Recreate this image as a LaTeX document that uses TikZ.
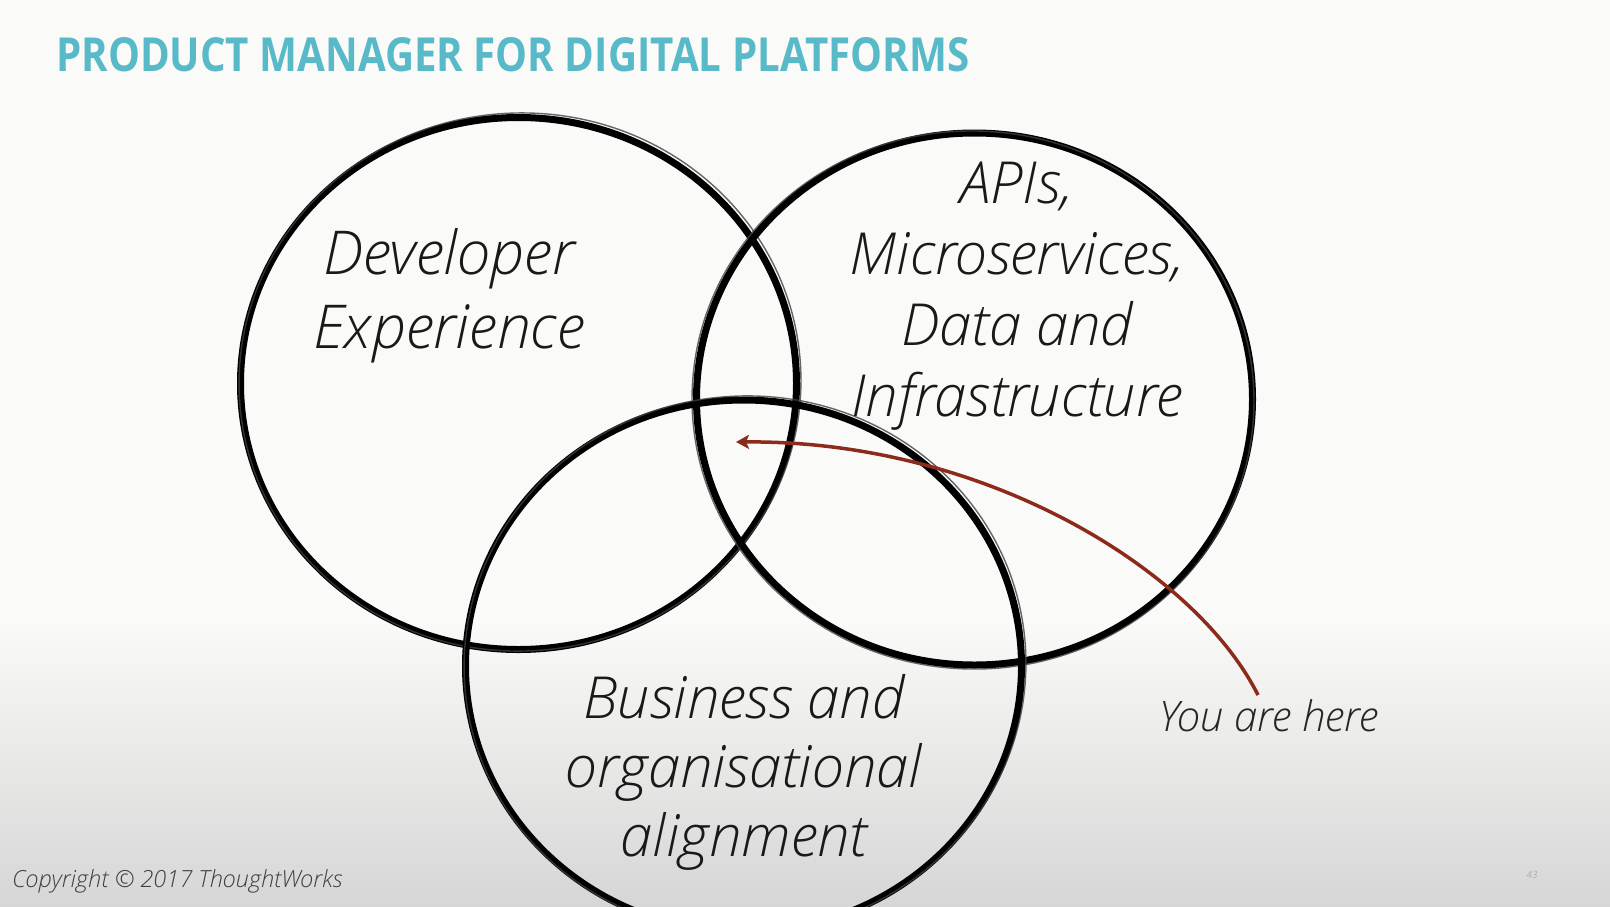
\documentclass[tikz,border=0pt]{standalone}
\usepackage{fontspec}
\usetikzlibrary{shapes.geometric,arrows.meta}
\IfFontExistsTF{Open Sans Light Italic}
  {\newfontfamily\litfont{Open Sans Light Italic}}
  {\newfontfamily\litbase{Open Sans}\newcommand\litfont{\litbase\itshape}}
\newfontfamily\titlefont{Open Sans}
\definecolor{titleteal}{RGB}{88,186,200}
\definecolor{arrowred}{RGB}{140,42,28}
\definecolor{bgtop}{RGB}{250,250,248}
\definecolor{bgbot}{RGB}{214,214,214}
\tikzset{
  ring/.style={ellipse, draw=black, line width=7pt, minimum width=556pt, minimum height=532pt, inner sep=0pt},
  brush/.style={ellipse, draw=black!75, line width=1.4pt, minimum width=562pt, minimum height=538pt, inner sep=0pt, opacity=0.8},
  bigtext/.style={align=center, text=black!90},
}
\begin{document}
\begin{tikzpicture}[x=1pt,y=-1pt]
\useasboundingbox (0,0) rectangle (1610,906);
\clip (0,0) rectangle (1610,906);
\fill[bgtop] (0,0) rectangle (1610,906);
\shade[top color=bgtop, bottom color=bgbot] (0,620) rectangle (1610,906);

% title
\node[anchor=north west, inner sep=0pt, text=titleteal] (title) at (56,37)
  {\resizebox{913pt}{34pt}{\titlefont\bfseries PRODUCT MANAGER FOR DIGITAL PLATFORMS}};

% circles
\node[ring] (dev) at (518.5,383.5) {};
\node[brush, rotate=4] (devb) at (520,382) {};
\node[ring] (api) at (974.5,399) {};
\node[brush, rotate=-3] (apib) at (973,400) {};
\node[ring] (bus) at (743.5,666) {};
\node[brush, rotate=5] (busb) at (745,665) {};

% labels
\node[bigtext, font={\litfont\fontsize{60.5}{74}\selectfont}] (devt) at (449,296) {Developer\\Experience};
\node[bigtext, font={\litfont\fontsize{58}{71}\selectfont}] (apit) at (1017,296) {APIs,\\Microservices,\\Data and\\Infrastructure};
\node[bigtext, font={\litfont\fontsize{58}{69}\selectfont}] (bust) at (744,772) {Business and\\organisational\\alignment};
\node[anchor=base, text=black!85, font={\litfont\fontsize{42}{50}\selectfont}] (here) at (1269,731) {You are here};

% arrow
\coordinate (tail) at (1258,695);
\coordinate (tip) at (736,442);
\draw[arrowred, line width=3.5pt, -{Stealth[length=13pt,width=14pt,inset=3pt]}] (tail) .. controls (1195,570) and (985,440) .. (tip);

% footer
\node[anchor=base west, inner sep=0pt, text=black!75, font={\litfont\fontsize{23.6}{28}\selectfont}] (copy) at (12,887) {Copyright © 2017 ThoughtWorks};
\node[anchor=base, inner sep=0pt, text=black!40, font={\litfont\fontsize{10}{12}\selectfont}] (page) at (1532,878) {43};
\end{tikzpicture}
\end{document}
